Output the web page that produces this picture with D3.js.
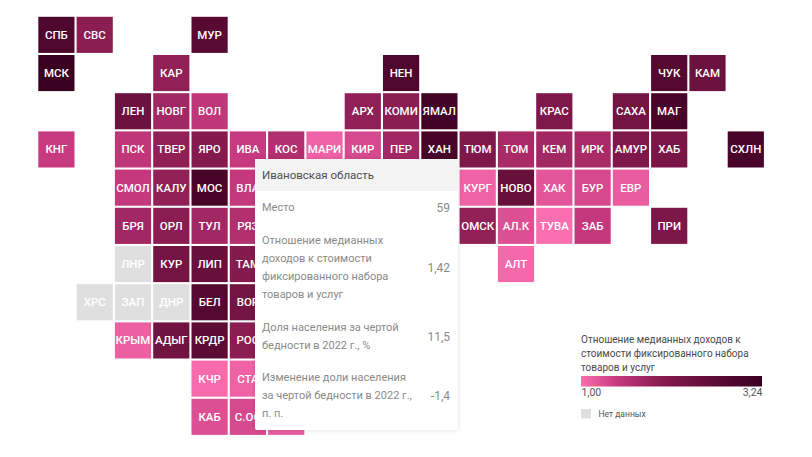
<!DOCTYPE html>
<html>
<head>
<meta charset="utf-8">
<script src="https://cdn.jsdelivr.net/npm/d3@7"></script>
<style>
  html, body { margin: 0; padding: 0; background: #fff; }
  #chart { position: relative; width: 812px; height: 457px; overflow: hidden; font-family: Roboto, sans-serif; }
  svg { position: absolute; left: 0; top: 0; }
  .tile-label { font-size: 11.5px; font-weight: 500; fill: #fff; text-anchor: middle; dominant-baseline: central; }
  .legend-title { font-size: 10px; fill: #4a4a4a; }
  .tooltip { position: absolute; left: 255px; top: 159px; width: 203px; height: 271px; background: #fff;
    box-shadow: 0 0 4px rgba(0,0,0,0.14); color: #8a8a8a; font-size: 11px; border-radius: 2px; }
  .tooltip .head { height: 32px; line-height: 32px; padding-left: 7px; background: #f3f3f3; color: #4d4d4d; font-size: 11.5px; }
  .tooltip .row { position: absolute; left: 7px; right: 8px; line-height: 18px; }
  .tooltip .val { position: absolute; right: 0; top: 50%; transform: translateY(-50%); font-size: 12px; }
</style>
</head>
<body>
<div id="chart"></div>
<script>
// tile map data: region code, grid column, grid row, income ratio (null = no data)
var codes = ["СПБ","СВС","МУР","МСК","КАР","НЕН","ЧУК","КАМ",
  "ЛЕН","НОВГ","ВОЛ","АРХ","КОМИ","ЯМАЛ","КРАС","САХА","МАГ",
  "КНГ","ПСК","ТВЕР","ЯРО","ИВА","КОС","МАРИ","КИР","ПЕР","ХАН","ТЮМ","ТОМ","КЕМ","ИРК","АМУР","ХАБ","СХЛН",
  "СМОЛ","КАЛУ","МОС","ВЛА","КУРГ","НОВО","ХАК","БУР","ЕВР",
  "БРЯ","ОРЛ","ТУЛ","РЯЗ","ОМСК","АЛ.К","ТУВА","ЗАБ","ПРИ",
  "ЛНР","КУР","ЛИП","ТАМ","АЛТ",
  "ХРС","ЗАП","ДНР","БЕЛ","ВОР",
  "КРЫМ","АДЫГ","КРДР","РОС",
  "КЧР","СТА",
  "КАБ","С.ОС","ЧЕЧ"];
var cols = [0,1,4,0,3,9,16,17,
  2,3,4,8,9,10,13,15,16,
  0,2,3,4,5,6,7,8,9,10,11,12,13,14,15,16,18,
  2,3,4,5,11,12,13,14,15,
  2,3,4,5,11,12,13,14,16,
  2,3,4,5,12,
  1,2,3,4,5,
  2,3,4,5,
  4,5,
  4,5,6];
var rows = [0,0,0,1,1,1,1,1,
  2,2,2,2,2,2,2,2,2,
  3,3,3,3,3,3,3,3,3,3,3,3,3,3,3,3,3,
  4,4,4,4,4,4,4,4,4,
  5,5,5,5,5,5,5,5,5,
  6,6,6,6,6,
  7,7,7,7,7,
  8,8,8,8,
  9,9,
  10,10,10];
var values = [2.9,1.95,2.75,3.24,1.9,2.9,2.8,2.4,
  2.4,1.75,1.5,1.9,1.95,3.1,2.1,2.3,3.0,
  1.42,1.5,1.9,2.0,1.42,1.6,1.1,1.3,1.75,3.0,2.1,1.7,1.75,1.7,2.1,2.2,3.0,
  1.45,1.9,3.0,1.45,1.1,2.5,1.2,1.3,1.15,
  1.75,1.95,1.75,1.6,1.9,1.25,1.0,1.45,2.15,
  null,2.3,2.5,2.0,1.05,
  null,null,null,2.8,2.3,
  1.12,2.35,2.7,1.95,
  1.03,1.1,
  1.25,1.3,1.15];

// legend
var legendTitle = ["Отношение медианных доходов к", "стоимости фиксированного набора", "товаров и услуг"];
var legendTicks = [1, 3.24];
var noDataLabel = "Нет данных";

// tooltip content
var tipTitle = "Ивановская область";
var tipLabels = [["Место"],
  ["Отношение медианных", "доходов к стоимости", "фиксированного набора", "товаров и услуг"],
  ["Доля населения за чертой", "бедности в 2022 г., %"],
  ["Изменение доли населения", "за чертой бедности в 2022 г.,", "п. п."]];
var tipValues = ["59", "1,42", "11,5", "-1,4"];
var tipTops = [199, 232, 319, 369];

var width = 812, height = 457;
var chart = d3.select("#chart");
var svg = chart.append("svg").attr("width", width).attr("height", height);

var x = d3.scaleBand().domain(d3.range(19)).range([38.3, 38.3 + 19 * 38.3 - 2.1]).paddingInner(0.055);
var y = d3.scaleBand().domain(d3.range(11)).range([16.8, 16.8 + 11 * 38.2 - 2.1]).paddingInner(0.055);

var color = d3.scaleLinear()
  .domain([1, 1.42, 2, 3.24])
  .range(["#fb6fb0", "#c83a80", "#851a4e", "#3a0020"]);

// tiles
var tile = svg.append("g").selectAll("g")
  .data(d3.range(codes.length))
  .enter().append("g")
    .attr("transform", function (i) { return "translate(" + x(cols[i]) + "," + y(rows[i]) + ")"; });

tile.append("rect")
  .attr("width", x.bandwidth())
  .attr("height", y.bandwidth())
  .attr("fill", function (i) { return values[i] === null ? "#dfdfdf" : color(values[i]); });

tile.append("text")
  .attr("class", "tile-label")
  .attr("x", x.bandwidth() / 2)
  .attr("y", y.bandwidth() / 2)
  .text(function (i) { return codes[i]; });

// legend
var legend = svg.append("g");
legend.selectAll(".legend-title")
  .data(legendTitle)
  .enter().append("text")
    .attr("class", "legend-title")
    .attr("x", 581)
    .attr("y", function (d, i) { return 343 + i * 14; })
    .text(function (d) { return d; });

var grad = svg.append("defs").append("linearGradient").attr("id", "legend-grad");
grad.selectAll("stop")
  .data(d3.range(0, 1.001, 0.1))
  .enter().append("stop")
    .attr("offset", function (d) { return d; })
    .attr("stop-color", function (d) { return color(1 + d * 2.24); });

var legendX = d3.scaleLinear().domain(legendTicks).range([581, 762]);
legend.append("rect")
  .attr("x", 581).attr("y", 376)
  .attr("width", 181).attr("height", 10.5)
  .attr("fill", "url(#legend-grad)");

var legendAxis = legend.append("g")
  .attr("transform", "translate(0,386)")
  .call(d3.axisBottom(legendX).tickValues(legendTicks).tickSize(0).tickPadding(3)
    .tickFormat(function (d) { return d3.format(".2f")(d).replace(".", ","); }));
legendAxis.select(".domain").remove();
legendAxis.selectAll("text")
  .attr("font-family", "Roboto, sans-serif").attr("font-size", 10.5).attr("fill", "#555")
  .attr("text-anchor", function (d) { return d === legendTicks[0] ? "start" : "end"; });

legend.append("rect").attr("x", 581).attr("y", 409).attr("width", 10).attr("height", 9.5).attr("fill", "#dfdfdf");
legend.append("text")
  .attr("x", 598.5).attr("y", 417)
  .attr("font-size", 8.5).attr("fill", "#555")
  .text(noDataLabel);

// tooltip, shown open over Ивановская область
var tip = chart.append("div").attr("class", "tooltip");
tip.append("div").attr("class", "head").text(tipTitle);
tipLabels.forEach(function (lines, i) {
  var row = tip.append("div").attr("class", "row")
    .style("top", (tipTops[i] - 159) + "px")
    .style("height", lines.length * 18 + "px");
  lines.forEach(function (l) { row.append("div").text(l); });
  row.append("div").attr("class", "val").text(tipValues[i]);
});
</script>
</body>
</html>
